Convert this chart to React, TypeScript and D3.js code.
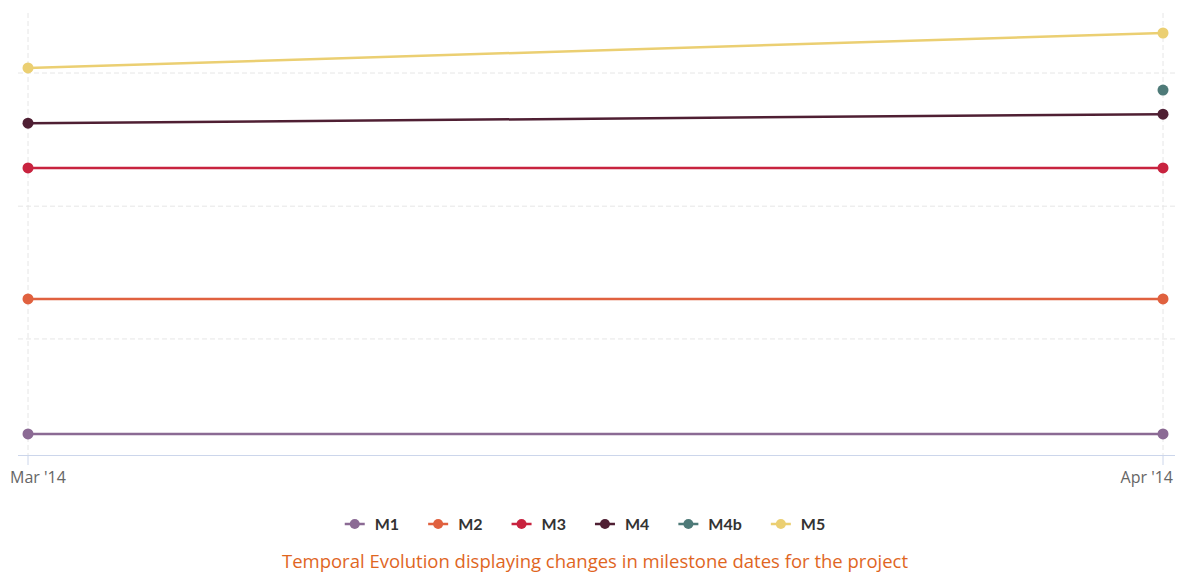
import React, { useEffect, useRef } from 'react';
import * as d3 from 'd3';

// x categories (snapshot months) and milestone dates per series
const snapshots = ['2014-03-01', '2014-04-01'];
const seriesNames = ['M1', 'M2', 'M3', 'M4', 'M4b', 'M5'];
const seriesColors = ['#8b6a94', '#e0613f', '#c8233f', '#4f1f33', '#4e7a78', '#ebcf72'];
const m1Dates = ['2014-04-15', '2014-04-15'];
const m2Dates = ['2015-04-21', '2015-04-21'];
const m3Dates = ['2016-04-15', '2016-04-15'];
const m4Dates = ['2016-08-16', '2016-09-10'];
const m4bDates = [null, '2016-11-15'];
const m5Dates = ['2017-01-15', '2017-04-21'];
const yGridDates = ['2015-01-01', '2016-01-01', '2017-01-01'];
const yDomain = ['2014-02-16', '2017-06-15'];
const caption = 'Temporal Evolution displaying changes in milestone dates for the project';

const W = 1180;
const H = 572;

const App: React.FC = () => {
  const svgRef = useRef<SVGSVGElement>(null);

  useEffect(() => {
    if (!svgRef.current) return;
    const svg = d3.select(svgRef.current);
    svg.selectAll('*').remove();

    const parse = (s: string) => new Date(s + 'T00:00:00');
    const allSeries = [m1Dates, m2Dates, m3Dates, m4Dates, m4bDates, m5Dates];

    const plotLeft = 18, plotRight = 1175, plotTop = 13, plotBottom = 455;

    const xScale = d3.scaleTime()
      .domain([parse(snapshots[0]), parse(snapshots[1])])
      .range([28, 1163]);

    const yScale = d3.scaleTime()
      .domain([parse(yDomain[0]), parse(yDomain[1])])
      .range([plotBottom, plotTop]);

    const g = svg.append('g');

    // Horizontal grid lines
    g.selectAll('.hgrid')
      .data(yGridDates)
      .enter()
      .append('line')
      .attr('x1', plotLeft)
      .attr('x2', plotRight)
      .attr('y1', d => yScale(parse(d)))
      .attr('y2', d => yScale(parse(d)))
      .attr('stroke', '#e6e6e6')
      .attr('stroke-width', 1)
      .attr('stroke-dasharray', '5,3');

    // Vertical grid lines at the x ticks
    g.selectAll('.vgrid')
      .data(snapshots)
      .enter()
      .append('line')
      .attr('x1', d => xScale(parse(d)))
      .attr('x2', d => xScale(parse(d)))
      .attr('y1', plotTop)
      .attr('y2', plotBottom)
      .attr('stroke', '#e6e6e6')
      .attr('stroke-width', 1)
      .attr('stroke-dasharray', '5,3');

    // x axis line and ticks
    g.append('line')
      .attr('x1', plotLeft)
      .attr('x2', plotRight)
      .attr('y1', plotBottom + 0.5)
      .attr('y2', plotBottom + 0.5)
      .attr('stroke', '#ccd6eb');

    g.selectAll('.xtick')
      .data(snapshots)
      .enter()
      .append('line')
      .attr('x1', d => xScale(parse(d)))
      .attr('x2', d => xScale(parse(d)))
      .attr('y1', plotBottom)
      .attr('y2', plotBottom + 10)
      .attr('stroke', '#ccd6eb');

    const fmt = d3.timeFormat("%b '%y");
    g.selectAll('.xlabel')
      .data(snapshots)
      .enter()
      .append('text')
      .attr('y', 483)
      .attr('font-family', '"Open Sans", sans-serif')
      .attr('font-size', '16px')
      .attr('fill', '#666666')
      .text(d => fmt(parse(d)))
      .each(function (d) {
        // justify labels so they stay inside the chart
        const el = this as SVGTextElement;
        const w = el.getComputedTextLength();
        let x = xScale(parse(d)) - w / 2;
        x = Math.max(10, Math.min(x, 1173 - w));
        el.setAttribute('x', String(x));
      });

    // Series lines and markers
    const line = d3.line<{ x: Date; y: Date }>()
      .x(d => xScale(d.x))
      .y(d => yScale(d.y));

    allSeries.forEach((dates, i) => {
      const pts = dates
        .map((v, j) => (v ? { x: parse(snapshots[j]), y: parse(v) } : null))
        .filter(Boolean) as { x: Date; y: Date }[];
      if (pts.length > 1) {
        g.append('path')
          .datum(pts)
          .attr('d', line)
          .attr('fill', 'none')
          .attr('stroke', seriesColors[i])
          .attr('stroke-width', 2.5);
      }
      g.selectAll(`.pt-${i}`)
        .data(pts)
        .enter()
        .append('circle')
        .attr('cx', d => xScale(d.x))
        .attr('cy', d => yScale(d.y))
        .attr('r', 5.5)
        .attr('fill', seriesColors[i]);
    });

    // Legend
    const legend = g.append('g');
    let cursor = 0;
    seriesNames.forEach((name, i) => {
      const item = legend.append('g').attr('transform', `translate(${cursor},0)`);
      item.append('line')
        .attr('x1', 0).attr('x2', 20)
        .attr('y1', 0).attr('y2', 0)
        .attr('stroke', seriesColors[i])
        .attr('stroke-width', 2.5);
      item.append('circle')
        .attr('cx', 10).attr('cy', 0).attr('r', 5)
        .attr('fill', seriesColors[i]);
      const t = item.append('text')
        .attr('x', 30)
        .attr('y', 6)
        .attr('font-family', 'Lato, sans-serif')
        .attr('font-weight', 'bold')
        .attr('font-size', '16px')
        .attr('fill', '#333333')
        .text(name);
      const w = (t.node() as SVGTextElement).getComputedTextLength();
      cursor += 30 + w + 29;
    });
    const legendWidth = cursor - 29;
    legend.attr('transform', `translate(${585 - legendWidth / 2},524)`);

    // Caption
    g.append('text')
      .attr('x', 595)
      .attr('y', 568)
      .attr('text-anchor', 'middle')
      .attr('font-family', '"Open Sans", sans-serif')
      .attr('font-size', '18.5px')
      .attr('fill', '#e0661f')
      .text(caption);
  }, []);

  return (
    <svg
      ref={svgRef}
      width={W}
      height={H}
      style={{ display: 'block', position: 'absolute', left: 0, top: 0, background: 'white' }}
    />
  );
};

export default App;
